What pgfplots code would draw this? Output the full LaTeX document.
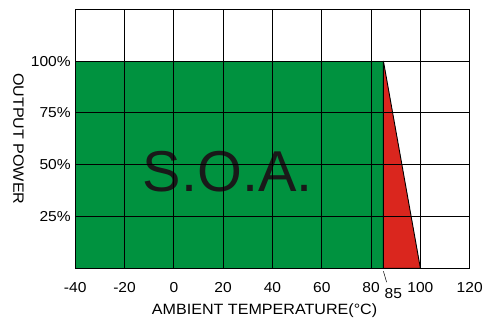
\documentclass[border=0pt]{standalone}
\usepackage{fontspec}
\setmainfont{Liberation Sans}[FakeStretch=1.08]
\newfontfamily\soafont{Liberation Sans}
\usepackage{pgfplots}
\pgfplotsset{compat=1.18}
\definecolor{soagreen}{RGB}{0,146,63}
\definecolor{soared}{RGB}{218,38,30}
\begin{document}
\begin{tikzpicture}
\begin{axis}[
  name=ax,
  scale only axis,
  width=397pt, height=260.7pt,
  xmin=-40, xmax=120, ymin=0, ymax=125,
  axis on top,
  xtick={-40,-20,0,20,40,60,80,100,120},
  xticklabels={-40,-20,0,20,40,60,80,100,120},
  ytick={25,50,75,100},
  yticklabels={25\%,50\%,75\%,100\%},
  extra y ticks={125}, extra y tick labels={},
  major tick length=0pt,
  grid=major,
  grid style={black, line width=0.8pt},
  axis line style={black, line width=0.9pt},
  tick label style={font=\fontsize{14.5}{16}\selectfont},
  xticklabel style={yshift=-10.5pt},
  yticklabel style={xshift=-1pt},
  every axis x label/.style={at={(rel axis cs:0.48,0)}, yshift=-43pt, anchor=center},
  every axis y label/.style={at={(rel axis cs:0,0.5)}, xshift=-57pt, rotate=-90, anchor=center},
  label style={font=\fontsize{15}{17}\selectfont},
  xlabel={AMBIENT TEMPERATURE(°C)},
  ylabel={OUTPUT POWER},
  clip=false,
]
\addplot[fill=soagreen, draw=black, line width=0.9pt] coordinates {(-40,0) (-40,100) (85,100) (85,0)} -- cycle;
\addplot[fill=soared, draw=black, line width=0.9pt] coordinates {(85,0) (85,100) (100,0)} -- cycle;
\node[anchor=base, font=\soafont\fontsize{58}{60}\selectfont, text=black!90] at (axis cs:21.9,37.1) {S.O.A.};
\draw[black, line width=0.5pt] ([yshift=-3pt]axis cs:85,0) -- ([yshift=-14pt]axis cs:86.3,0);
\node[font=\fontsize{14.5}{16}\selectfont] at ([yshift=-25pt]axis cs:89,0) {85};
\end{axis}
\path[use as bounding box] ([xshift=-75.7pt,yshift=-48pt]ax.south west) rectangle ([xshift=13.3pt,yshift=9.3pt]ax.north east);
\end{tikzpicture}
\end{document}
